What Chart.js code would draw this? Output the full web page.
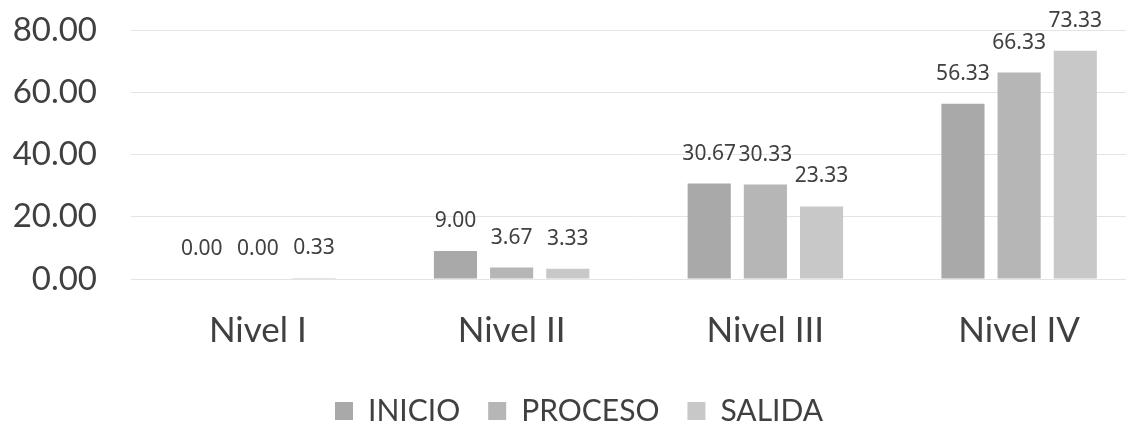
<!DOCTYPE html>
<html>
<head>
<meta charset="utf-8">
<script src="https://cdn.jsdelivr.net/npm/chart.js@4.4.1/dist/chart.umd.min.js"></script>
<style>
  html, body { margin: 0; padding: 0; background: #ffffff; overflow: hidden; }
  #wrap { width: 1148px; height: 430px; }
</style>
</head>
<body>
<div id="wrap"><canvas id="c" width="1148" height="430"></canvas></div>
<script>
const categories = ["Nivel I", "Nivel II", "Nivel III", "Nivel IV"];
const seriesNames = ["INICIO", "PROCESO", "SALIDA"];
const inicio = [0.00, 9.00, 30.67, 56.33];
const proceso = [0.00, 3.67, 30.33, 66.33];
const salida = [0.33, 3.33, 23.33, 73.33];
const yTicks = [0, 20, 40, 60, 80];

const colors = ["#a9a9a9", "#b6b6b6", "#c8c8c8"];
const textColor = "#404040";

const valueLabels = {
  id: "valueLabels",
  afterDatasetsDraw(chart) {
    const ctx = chart.ctx;
    ctx.save();
    ctx.font = "21px 'Noto Sans'";
    ctx.fillStyle = textColor;
    ctx.textAlign = "center";
    ctx.textBaseline = "alphabetic";
    chart.data.datasets.forEach((ds, i) => {
      const meta = chart.getDatasetMeta(i);
      meta.data.forEach((bar, j) => {
        ctx.fillText(ds.data[j].toFixed(2), bar.x, bar.y - 24);
      });
    });
    ctx.restore();
  }
};

new Chart(document.getElementById("c"), {
  type: "bar",
  data: {
    labels: categories,
    datasets: [
      { label: seriesNames[0], data: inicio, backgroundColor: colors[0] },
      { label: seriesNames[1], data: proceso, backgroundColor: colors[1] },
      { label: seriesNames[2], data: salida, backgroundColor: colors[2] }
    ]
  },
  options: {
    responsive: false,
    animation: false,
    devicePixelRatio: 1,
    layout: { padding: { top: 30, left: 12, right: 2, bottom: -6 } },
    datasets: { bar: { categoryPercentage: 0.664, barPercentage: 0.768 } },
    plugins: {
      tooltip: { enabled: false },
      legend: {
        position: "bottom",
        labels: {
          font: { family: "Lato", size: 30 },
          color: textColor,
          boxWidth: 18,
          boxHeight: 18,
          padding: 28
        }
      }
    },
    scales: {
      x: {
        grid: { display: false, drawTicks: false },
        border: { display: false },
        ticks: { font: { family: "Lato", size: 35 }, color: textColor, padding: 31 },
        afterFit(axis) { axis.height = 89; }
      },
      y: {
        min: 0,
        max: 80,
        afterBuildTicks(axis) { axis.ticks = yTicks.map(v => ({ value: v })); },
        grid: { color: "#e4e4e4", lineWidth: 1, drawTicks: false },
        border: { display: false },
        ticks: {
          font: { family: "Lato", size: 33 },
          color: textColor,
          padding: 34,
          callback: v => Number(v).toFixed(2)
        },
        afterFit(axis) { axis.width = 119; axis.paddingTop = 0; axis.paddingBottom = 0; }
      }
    }
  },
  plugins: [valueLabels]
});
</script>
</body>
</html>
